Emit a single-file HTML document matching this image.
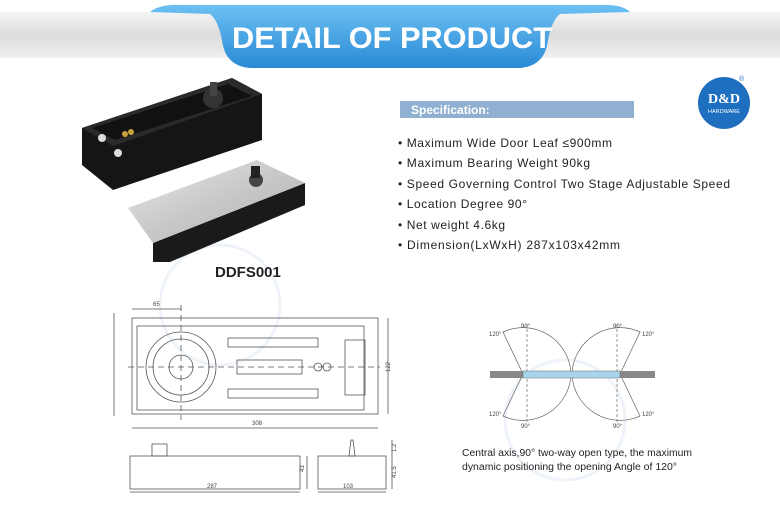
<!DOCTYPE html>
<html><head><meta charset="utf-8"><style>
body{margin:0;width:780px;height:520px;overflow:hidden;background:#fff;font-family:"Liberation Sans",sans-serif}
</style></head><body>
<svg width="780" height="520" viewBox="0 0 780 520" xmlns="http://www.w3.org/2000/svg" font-family="Liberation Sans, sans-serif">
<defs>
<linearGradient id="band" x1="0" y1="0" x2="0" y2="1"><stop offset="0" stop-color="#f4f4f4"/><stop offset="0.5" stop-color="#dcdcdc"/><stop offset="1" stop-color="#f0f0f0"/></linearGradient>
<linearGradient id="rib" x1="0" y1="0" x2="0" y2="1"><stop offset="0" stop-color="#6cc0f2"/><stop offset="1" stop-color="#2a8ad6"/></linearGradient>
<linearGradient id="silver" x1="0" y1="0" x2="1" y2="1"><stop offset="0" stop-color="#e8e8e8"/><stop offset="0.5" stop-color="#c8c8c8"/><stop offset="1" stop-color="#b0b0b0"/></linearGradient>
</defs>
<rect x="0" y="12" width="780" height="46" fill="url(#band)"/>
<path d="M150 12 Q160 4 180 5 L600 5 Q622 4 630 12 L560 14 Q552 20 548 40 Q545 66 520 68 L250 68 Q225 66 222 40 Q218 20 210 14 Z" fill="url(#rib)"/>
<text x="232" y="48" textLength="320" lengthAdjust="spacingAndGlyphs" font-size="30" font-weight="bold" fill="#fff">DETAIL OF PRODUCT</text>
<!-- watermark -->
<circle cx="220" cy="305" r="60" fill="none" stroke="#eef3f9" stroke-width="3"/>
<circle cx="565" cy="420" r="60" fill="none" stroke="#eef3f9" stroke-width="3"/>
<!-- black box -->
<polygon points="82,128 232,78 262,94 262,140 113,190 82,165" fill="#151515"/>
<polygon points="82,128 232,78 262,94 113,146" fill="#2a2a2a"/>
<polygon points="92,128 228,84 252,96 115,140" fill="#111"/>
<circle cx="213" cy="98" r="10" fill="#333"/><rect x="210" y="82" width="7" height="14" fill="#444"/>
<circle cx="125" cy="134" r="3" fill="#c8a040"/><circle cx="131" cy="132" r="3" fill="#c8a040"/>
<circle cx="102" cy="138" r="4" fill="#ddd"/><circle cx="118" cy="153" r="4" fill="#ddd"/>
<!-- silver -->
<polygon points="153,243 305,183 305,205 170,262 153,262" fill="#1a1a1a"/>
<polygon points="128,208 257,160 305,183 153,243" fill="url(#silver)"/>
<circle cx="256" cy="180" r="7" fill="#444"/><rect x="251" y="166" width="9" height="12" fill="#222"/>
<text x="215" y="277" font-size="15" font-weight="bold" fill="#222">DDFS001</text>
<!-- spec -->
<rect x="400" y="101" width="234" height="17" fill="#8fb0d0"/>
<text x="411" y="114" font-size="12" font-weight="bold" fill="#fff">Specification:</text>
<g font-size="12" fill="#222" lengthAdjust="spacingAndGlyphs">
<text x="398" y="147" textLength="214">• Maximum Wide Door Leaf ≤900mm</text>
<text x="398" y="167" textLength="192">• Maximum Bearing Weight 90kg</text>
<text x="398" y="188" textLength="332">• Speed Governing Control Two Stage Adjustable Speed</text>
<text x="398" y="208" textLength="129">• Location Degree 90°</text>
<text x="398" y="229" textLength="107">• Net weight 4.6kg</text>
<text x="398" y="249" textLength="222">• Dimension(LxWxH) 287x103x42mm</text>
</g>
<circle cx="724" cy="103" r="26" fill="#1f6fc0"/>
<text x="724" y="103" text-anchor="middle" font-size="14" font-weight="bold" fill="#fff" font-family="Liberation Serif,serif">D&amp;D</text>
<text x="724" y="113" text-anchor="middle" font-size="5.5" fill="#fff">HARDWARE</text>
<text x="739" y="81" font-size="7" fill="#1f6fc0">®</text>
<!-- drawing -->
<g fill="none" stroke="#555" stroke-width="0.8">
<rect x="132" y="318" width="246" height="96"/>
<rect x="137" y="326" width="227" height="84"/>
<circle cx="181" cy="367" r="35"/><circle cx="181" cy="367" r="28"/><circle cx="181" cy="367" r="12"/>
<rect x="228" y="338" width="90" height="9"/><rect x="228" y="389" width="90" height="9"/>
<rect x="237" y="360" width="65" height="14"/>
<circle cx="318" cy="367" r="4"/><circle cx="327" cy="367" r="4"/>
<rect x="345" y="340" width="20" height="55"/>
<line x1="128" y1="367" x2="380" y2="367" stroke-dasharray="6,4"/>
<line x1="181" y1="305" x2="181" y2="420" stroke-dasharray="6,4"/>
<line x1="132" y1="309" x2="181" y2="309"/>
<line x1="132" y1="428" x2="378" y2="428"/>
<line x1="388" y1="318" x2="388" y2="414"/>
<line x1="114" y1="313" x2="114" y2="416"/>
<rect x="130" y="456" width="170" height="33"/>
<rect x="152" y="444" width="15" height="12"/>
<line x1="130" y1="492" x2="300" y2="492"/>
<line x1="307" y1="456" x2="307" y2="489"/>
<rect x="318" y="456" width="68" height="33"/>
<polygon points="349,456 351,440 353,440 355,456"/>
<line x1="318" y1="492" x2="386" y2="492"/>
<line x1="392" y1="440" x2="392" y2="489"/>
</g>
<g font-size="6" fill="#444">
<text x="153" y="306">65</text><text x="252" y="425">308</text>
<text x="390" y="372" transform="rotate(-90 390 372)">122</text>
<text x="207" y="488">287</text><text x="343" y="488">103</text>
<text x="304" y="472" transform="rotate(-90 304 472)">43</text>
<text x="396" y="478" transform="rotate(-90 396 478)">41.5</text>
<text x="396" y="452" transform="rotate(-90 396 452)">1.2</text>
</g>
<!-- door diagram -->
<g fill="none" stroke="#666" stroke-width="0.7">
<path d="M523 374 L503 332 A48 48 0 0 1 571 374"/>
<path d="M523 374 L503 416 A48 48 0 0 0 571 374"/>
<path d="M620 374 L640 332 A48 48 0 0 0 572 374"/>
<path d="M620 374 L640 416 A48 48 0 0 1 572 374"/>
<line x1="527" y1="324" x2="527" y2="424" stroke-dasharray="3,2"/>
<line x1="617" y1="324" x2="617" y2="424" stroke-dasharray="3,2"/>
</g>
<rect x="490" y="371" width="33" height="7" fill="#888"/>
<rect x="620" y="371" width="35" height="7" fill="#888"/>
<rect x="523" y="371" width="97" height="7" fill="#a8d4ee" stroke="#666" stroke-width="0.5"/>
<g font-size="6" fill="#444">
<text x="521" y="328">90°</text><text x="613" y="328">90°</text>
<text x="489" y="336">120°</text><text x="642" y="336">120°</text>
<text x="489" y="416">120°</text><text x="642" y="416">120°</text>
<text x="521" y="428">90°</text><text x="613" y="428">90°</text>
</g>
<text x="462" y="456" font-size="10" textLength="230" lengthAdjust="spacingAndGlyphs" fill="#222">Central axis,90° two-way open type, the maximum</text>
<text x="462" y="470" font-size="10" textLength="215" lengthAdjust="spacingAndGlyphs" fill="#222">dynamic positioning the opening Angle of 120°</text>
</svg>
</body></html>
